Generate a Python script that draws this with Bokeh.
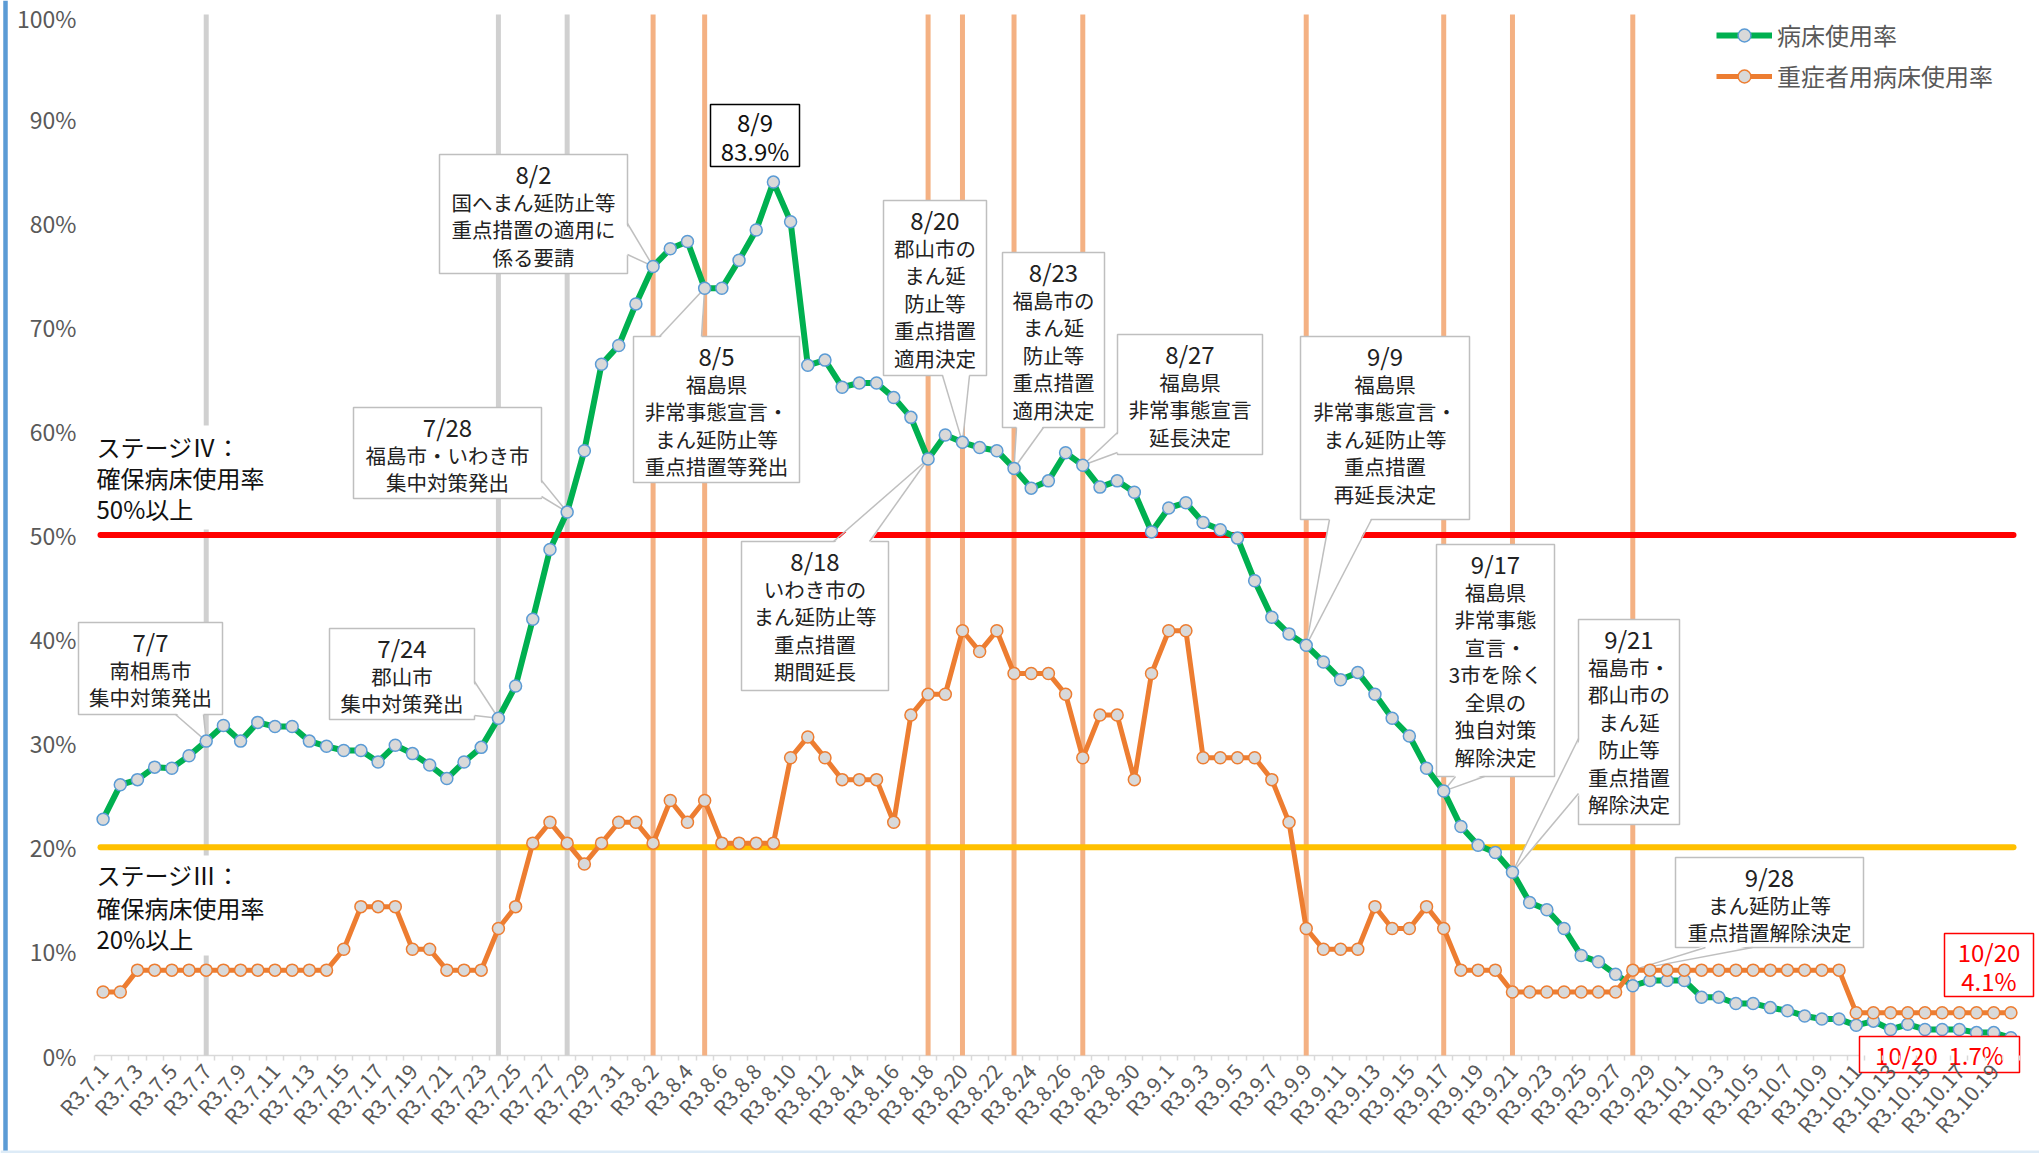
import math
from bokeh.plotting import figure
from bokeh.models import Range1d, FixedTicker, PrintfTickFormatter, Legend, LegendItem
from bokeh.embed import file_html
from bokeh.resources import INLINE
from bokeh.core.properties import value

FONT = "Noto Sans CJK JP"

# ---------------- data ----------------
month_lengths = [(7, 31), (8, 31), (9, 30), (10, 20)]
dates = [f"{m}/{d}" for m, n in month_lengths for d in range(1, n + 1)]
tick_labels = [f"R3.{m}.{d}" for m, n in month_lengths for d in range(1, n + 1)]

bed_rate = [
    # July
    22.7, 26.0, 26.5, 27.7, 27.6, 28.8, 30.2, 31.7, 30.2, 32.0, 31.6, 31.6, 30.2, 29.7, 29.3, 29.3,
    28.2, 29.8, 29.0, 27.9, 26.6, 28.2, 29.6, 32.4, 35.5, 41.9, 48.6, 52.2, 58.1, 66.4, 68.2,
    # August
    72.2, 75.8, 77.5, 78.2, 73.7, 73.7, 76.4, 79.3, 83.9, 80.1, 66.3, 66.8, 64.2, 64.6, 64.6, 63.2,
    61.3, 57.3, 59.6, 58.9, 58.4, 58.1, 56.4, 54.5, 55.2, 57.9, 56.7, 54.6, 55.2, 54.1, 50.3,
    # September
    52.6, 53.1, 51.2, 50.5, 49.7, 45.6, 42.1, 40.5, 39.4, 37.8, 36.1, 36.8, 34.7, 32.4, 30.7, 27.6,
    25.4, 22.0, 20.2, 19.5, 17.6, 14.7, 14.0, 12.2, 9.6, 9.0, 7.8, 6.7, 7.2, 7.2,
    # October
    7.2, 5.6, 5.6, 5.0, 5.0, 4.6, 4.3, 3.8, 3.5, 3.5, 2.9, 3.3, 2.5, 3.0, 2.5, 2.5, 2.5, 2.2, 2.2, 1.7,
]

severe_rate = [
    # July
    6.1, 6.1, 8.2, 8.2, 8.2, 8.2, 8.2, 8.2, 8.2, 8.2, 8.2, 8.2, 8.2, 8.2, 10.2, 14.3,
    14.3, 14.3, 10.2, 10.2, 8.2, 8.2, 8.2, 12.2, 14.3, 20.4, 22.4, 20.4, 18.4, 20.4, 22.4,
    # August
    22.4, 20.4, 24.5, 22.4, 24.5, 20.4, 20.4, 20.4, 20.4, 28.6, 30.6, 28.6, 26.5, 26.5, 26.5, 22.4,
    32.7, 34.7, 34.7, 40.8, 38.8, 40.8, 36.7, 36.7, 36.7, 34.7, 28.6, 32.7, 32.7, 26.5, 36.7,
    # September
    40.8, 40.8, 28.6, 28.6, 28.6, 28.6, 26.5, 22.4, 12.2, 10.2, 10.2, 10.2, 14.3, 12.2, 12.2, 14.3,
    12.2, 8.2, 8.2, 8.2, 6.1, 6.1, 6.1, 6.1, 6.1, 6.1, 6.1, 8.2, 8.2, 8.2,
    # October
    8.2, 8.2, 8.2, 8.2, 8.2, 8.2, 8.2, 8.2, 8.2, 8.2, 4.1, 4.1, 4.1, 4.1, 4.1, 4.1, 4.1, 4.1, 4.1, 4.1,
]

gray_events = ["7/7", "7/24", "7/28"]
orange_events = ["8/2", "8/5", "8/18", "8/20", "8/23", "8/27", "9/9", "9/17", "9/21", "9/28"]
stage_levels = [50, 20]
series_names = ["病床使用率", "重症者用病床使用率"]

# ---------------- geometry (frame covers the whole figure) ----------------
W, H = 2039, 1153
n = len(dates)
AX_LEFT = 94          # pixel where the category axis starts
AX_RIGHT = 2019       # pixel where the category axis ends
Y0_PX, Y100_PX = 1055, 14
DX = (AX_RIGHT - AX_LEFT) / n
X0 = AX_LEFT + DX / 2
DY = (Y0_PX - Y100_PX) / 100.0


def dx(sx):
    return (sx - X0) / DX


def dy(sy):
    return (Y0_PX - sy) / DY


xi = {d: i for i, d in enumerate(dates)}
xs = list(range(n))

p = figure(width=W, height=H, x_range=Range1d(dx(0), dx(W)), y_range=Range1d(dy(H), dy(0)),
           output_backend="svg", toolbar_location=None, title=None,
           min_border_left=0, min_border_right=0, min_border_top=0, min_border_bottom=0,
           background_fill_color="white", border_fill_color="white", outline_line_color=None)
p.xgrid.grid_line_color = None
p.ygrid.grid_line_color = None

# frame decorations of the slide
p.segment(x0=[dx(5)], y0=[dy(0)], x1=[dx(5)], y1=[dy(H)], line_color="#5B9BD5", line_width=4.5)
p.segment(x0=[dx(0)], y0=[dy(H - 1.5)], x1=[dx(W)], y1=[dy(H - 1.5)], line_color="#DDEBF7",
          line_width=3)

# axes (drawn at fixed data locations)
p.xaxis.fixed_location = 0
p.xaxis.ticker = FixedTicker(ticks=list(range(0, n, 2)), minor_ticks=[i - 0.5 for i in range(n + 1)])
p.xaxis.major_label_overrides = {i: tick_labels[i] for i in range(0, n, 2)}
p.xaxis.major_label_orientation = 0.85
p.xaxis.major_label_text_font = FONT
p.xaxis.major_label_text_font_size = "21px"
p.xaxis.major_label_text_color = "#595959"
p.xaxis.major_label_standoff = 6
p.xaxis.major_tick_out = 0
p.xaxis.major_tick_in = 0
p.xaxis.minor_tick_out = 5
p.xaxis.minor_tick_in = 0
p.xaxis.minor_tick_line_color = "#D9D9D9"
p.xaxis.minor_tick_line_width = 1.5
p.xaxis.axis_line_color = None

p.yaxis.fixed_location = dx(77)
p.yaxis.ticker = FixedTicker(ticks=list(range(0, 101, 10)))
p.yaxis.formatter = PrintfTickFormatter(format="%d%%")
p.yaxis.major_label_text_font = FONT
p.yaxis.major_label_text_font_size = "23px"
p.yaxis.major_label_text_color = "#595959"
p.yaxis.major_label_standoff = 1
p.yaxis.major_tick_out = 0
p.yaxis.major_tick_in = 0
p.yaxis.minor_tick_line_color = None
p.yaxis.axis_line_color = None

# category axis line
p.segment(x0=[-0.5], y0=[0], x1=[n - 0.5], y1=[0], line_color="#D9D9D9", line_width=1.5)

# event vertical lines
gx = [xi[d] for d in gray_events]
p.segment(x0=gx, y0=[0] * len(gx), x1=gx, y1=[100] * len(gx), line_color="#D0D0D0", line_width=5)
ox = [xi[d] for d in orange_events]
p.segment(x0=ox, y0=[0] * len(ox), x1=ox, y1=[100] * len(ox), line_color="#F4B183", line_width=5)

# stage thresholds
for lvl, col in zip(stage_levels, ["#FF0000", "#FFC000"]):
    p.segment(x0=[dx(100)], y0=[lvl], x1=[dx(2013)], y1=[lvl], line_color=col, line_width=6,
              line_cap="round")

# stage text blocks
stage_texts = [
    ((90, 425, 268, 529), ["ステージⅣ：", "確保病床使用率", "50%以上"], [446, 477, 508]),
    ((90, 855, 268, 955), ["ステージⅢ：", "確保病床使用率", "20%以上"], [874, 907, 938]),
]
for (l, t, r, b), lines, ys in stage_texts:
    p.quad(left=dx(l), right=dx(r), top=dy(t), bottom=dy(b), fill_color="white", line_color=None)
    p.text(x=[dx(96)] * len(lines), y=[dy(v) for v in ys], text=lines, text_align="left",
           text_baseline="middle", text_font=value(FONT), text_font_size="24px", text_color="#111111")

# callouts
callouts = [
    dict(box=(78, 622, 222, 714), date="7/7", lines=["南相馬市", "集中対策発出"],
         base=((175, 714), (203, 714)), tip=("7/7", 0)),
    dict(box=(329, 628, 474, 719), date="7/24", lines=["郡山市", "集中対策発出"],
         base=((474, 681), (474, 715)), tip=("7/24", 0)),
    dict(box=(353, 407, 541, 498), date="7/28", lines=["福島市・いわき市", "集中対策発出"],
         base=((541, 480), (541, 496)), tip=("7/28", 0)),
    dict(box=(439, 154, 627, 273), date="8/2", lines=["国へまん延防止等", "重点措置の適用に", "係る要請"],
         base=((627, 223), (627, 254)), tip=("8/2", 0)),
    dict(box=(633, 336, 799, 482), date="8/5",
         lines=["福島県", "非常事態宣言・", "まん延防止等", "重点措置等発出"],
         base=((659, 336), (701, 336)), tip=("8/5", 0)),
    dict(box=(883, 200, 986, 375), date="8/20", lines=["郡山市の", "まん延", "防止等", "重点措置", "適用決定"],
         base=((942, 375), (969, 375)), tip=("8/20", 0)),
    dict(box=(1002, 252, 1104, 427), date="8/23", lines=["福島市の", "まん延", "防止等", "重点措置", "適用決定"],
         base=((1016, 427), (1043, 427)), tip=("8/23", 0)),
    dict(box=(1117, 334, 1262, 454), date="8/27", lines=["福島県", "非常事態宣言", "延長決定"],
         base=((1117, 432), (1117, 452)), tip=("8/27", 0)),
    dict(box=(741, 541, 888, 690), date="8/18", lines=["いわき市の", "まん延防止等", "重点措置", "期間延長"],
         base=((833, 541), (869, 541)), tip=("8/18", 0)),
    dict(box=(1300, 336, 1469, 519), date="9/9",
         lines=["福島県", "非常事態宣言・", "まん延防止等", "重点措置", "再延長決定"],
         base=((1329, 519), (1371, 519)), tip=("9/9", 0)),
    dict(box=(1436, 544, 1554, 776), date="9/17",
         lines=["福島県", "非常事態", "宣言・", "3市を除く", "全県の", "独自対策", "解除決定"],
         base=((1455, 776), (1484, 776)), tip=("9/17", 0)),
    dict(box=(1578, 619, 1679, 824), date="9/21",
         lines=["福島市・", "郡山市の", "まん延", "防止等", "重点措置", "解除決定"],
         base=((1578, 738), (1578, 793)), tip=("9/21", 0)),
    dict(box=(1675, 857, 1863, 947), date="9/28", lines=["まん延防止等", "重点措置解除決定"],
         base=((1705, 947), (1752, 947)), tip=("9/28", 1)),
]
series_values = [bed_rate, severe_rate]
BOX_LINE = "#BFBFBF"
date_x, date_y, date_t = [], [], []
body_x, body_y, body_t = [], [], []
for c in callouts:
    l, t, r, b = c["box"]
    p.quad(left=dx(l), right=dx(r), top=dy(t), bottom=dy(b), fill_color="white",
           line_color=BOX_LINE, line_width=1.5)
    (ax, ay), (bx, by) = c["base"]
    d, si = c["tip"]
    tx, ty = xi[d], series_values[si][xi[d]]
    cx, cy = (l + r) / 2, (t + b) / 2
    if ay == by:
        sh = 2 if cy > ay else -2
        pax, pay, pbx, pby = ax, ay + sh, bx, by + sh
    else:
        sh = 2 if cx > ax else -2
        pax, pay, pbx, pby = ax + sh, ay, bx + sh, by
    p.patch(x=[dx(pax), dx(pbx), tx], y=[dy(pay), dy(pby), ty], fill_color="white", line_color=None)
    p.segment(x0=[dx(ax), dx(bx)], y0=[dy(ay), dy(by)], x1=[tx, tx], y1=[ty, ty],
              line_color=BOX_LINE, line_width=1.5)
    date_x.append(dx(cx)); date_y.append(dy(t + 19)); date_t.append(c["date"])
    for k, s in enumerate(c["lines"]):
        body_x.append(dx(cx)); body_y.append(dy(t + 47 + 27.5 * k)); body_t.append(s)

p.text(x=date_x, y=date_y, text=date_t, text_align="center", text_baseline="middle",
       text_font=value(FONT), text_font_size="24px", text_color="#222222")
p.text(x=body_x, y=body_y, text=body_t, text_align="center", text_baseline="middle",
       text_font=value(FONT), text_font_size="20.5px", text_color="#222222")

# peak box 8/9
peak_i = bed_rate.index(max(bed_rate))
p.quad(left=dx(710), right=dx(799), top=dy(104), bottom=dy(166), fill_color="white",
       line_color="#000000", line_width=1.5)
p.text(x=[dx(754.5)] * 2, y=[dy(121), dy(150)], text=[dates[peak_i], f"{bed_rate[peak_i]}%"],
       text_align="center", text_baseline="middle", text_font=value(FONT), text_font_size="24px",
       text_color="#111111")

# series
l1 = p.line(xs, bed_rate, line_color="#00B050", line_width=6, line_join="round")
s1 = p.scatter(xs, bed_rate, size=12, fill_color="#D9D9D9", line_color="#5B9BD5", line_width=1.5)
l2 = p.line(xs, severe_rate, line_color="#ED7D31", line_width=5, line_join="round")
s2 = p.scatter(xs, severe_rate, size=12, fill_color="#D9D9D9", line_color="#ED7D31", line_width=1.5)

# last-day boxes (red)
p.quad(left=dx(1944), right=dx(2033), top=dy(933), bottom=dy(996), fill_color="white",
       line_color="#FF0000", line_width=1.5)
p.text(x=[dx(1988.5)] * 2, y=[dy(951), dy(980)], text=[dates[-1], f"{severe_rate[-1]}%"],
       text_align="center", text_baseline="middle", text_font=value(FONT), text_font_size="24px",
       text_color="#FF0000")
p.quad(left=dx(1859), right=dx(2019), top=dy(1036), bottom=dy(1072), fill_color="white",
       line_color="#FF0000", line_width=1.5)
p.text(x=[dx(1939)], y=[dy(1054)], text=[f"{dates[-1]}\u00a0\u00a0{bed_rate[-1]}%"],
       text_align="center", text_baseline="middle", text_font=value(FONT), text_font_size="24px",
       text_color="#FF0000")

# legend
LPAD, GH, SP = 5, 32, 6
leg_h = 2 * LPAD + 2 * GH + SP
leg_top = 34 - GH / 2 - LPAD
legend = Legend(items=[LegendItem(label=series_names[0], renderers=[l1, s1]),
                       LegendItem(label=series_names[1], renderers=[l2, s2])],
                location=(1721 - LPAD, H - leg_top - leg_h),
                label_text_font=FONT, label_text_font_size="24px", label_text_color="#595959",
                glyph_width=56, glyph_height=GH, label_standoff=5, spacing=SP, padding=LPAD,
                margin=0, border_line_color=None, background_fill_alpha=0)
p.add_layout(legend, "center")

open("out.html", "w").write(file_html(p, INLINE))
